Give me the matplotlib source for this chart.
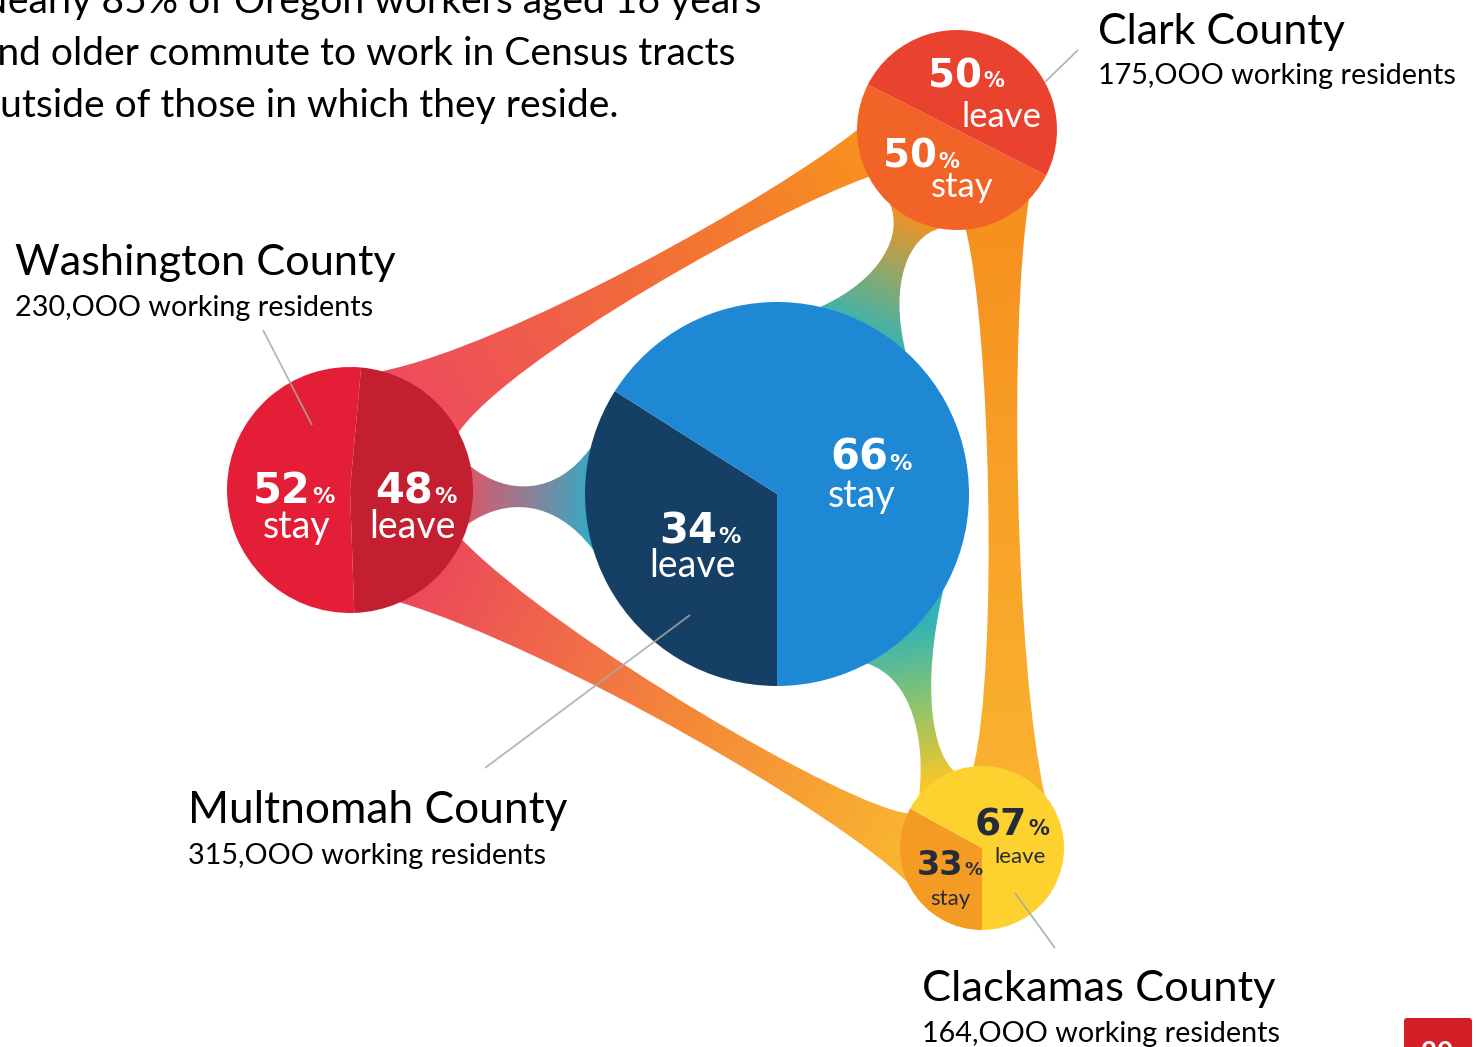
#!/usr/bin/env python3
"""Re-draw the commuting-flow infographic for the four Portland metro counties."""
import matplotlib

matplotlib.use("Agg")
import matplotlib.pyplot as plt
import numpy as np
from matplotlib.colors import LinearSegmentedColormap
from matplotlib.patches import FancyBboxPatch, PathPatch, Wedge
from matplotlib.path import Path

W, H = 1476, 1047
TXT = "Lato"
NUM = "DejaVu Sans"

# ---- data -------------------------------------------------------------
COUNTIES = ["Washington", "Clark", "Multnomah", "Clackamas"]
RESIDENTS = ["230,OOO", "175,OOO", "315,OOO", "164,OOO"]
STAY_PCT = [52, 50, 66, 33]
LEAVE_PCT = [48, 50, 34, 67]
HEADLINE = [
    "Nearly 85% of Oregon workers aged 16 years",
    "and older commute to work in Census tracts",
    "outside of those in which they reside.",
]
FLOWS = [
    ("Washington", "Clark"),
    ("Washington", "Clackamas"),
    ("Clark", "Clackamas"),
    ("Multnomah", "Washington"),
    ("Multnomah", "Clark"),
    ("Multnomah", "Clackamas"),
]

# ---- layout (pixels, y down; angles clockwise from east) --------------
# label tuple: number x, baseline, word centre x, word baseline, number pt, % pt, word pt
NODE = {
    "Washington": dict(c=(350, 490), r=123, first="stay", start=88,
                       stay="#e31e36", leave="#c41f30", ink="white",
                       stay_lbl=(311, 503, 297, 538, 30, 16, 27),
                       leave_lbl=(433, 503, 412, 538, 30, 16, 27),
                       name=(15, 275), sub=(15, 316), lead=((263, 330), (312, 425))),
    "Clark": dict(c=(957, 130), r=100, first="stay", start=27,
                  stay="#f26328", leave="#e94330", ink="white",
                  stay_lbl=(937, 168, 962, 197, 28, 15, 25),
                  leave_lbl=(982, 87, 1001, 127, 28, 15, 25),
                  name=(1098, 44), sub=(1098, 84), lead=((1045, 82), (1078, 50))),
    "Multnomah": dict(c=(777, 494), r=192, first="leave", start=90,
                      stay="#1e88d4", leave="#163f66", ink="white",
                      stay_lbl=(888, 470, 862, 507, 30, 16, 27),
                      leave_lbl=(717, 543, 692, 577, 30, 16, 27),
                      name=(188, 823), sub=(188, 864), lead=((690, 615), (485, 768))),
    "Clackamas": dict(c=(982, 848), r=82, first="stay", start=90,
                      stay="#f39b22", leave="#fdd22f", ink="#262b3a",
                      stay_lbl=(963, 875, 950, 905, 24, 13, 16),
                      leave_lbl=(1027, 835, 1020, 863, 27, 15, 16),
                      name=(922, 1001), sub=(922, 1042), lead=((1015, 893), (1055, 948))),
}

RIBBON = {
    ("Washington", "Clark"): dict(a=(-75, -28), b=(180, 152), waist=26, pos=0.5, k=0.3,
                                  colors=["#ee4d5c", "#f26c3a", "#f7911f"]),
    ("Washington", "Clackamas"): dict(a=(24, 66), b=(205, 155), waist=26, pos=0.55, k=0.3,
                                      colors=["#ec4a5a", "#f4853a", "#f9b530"]),
    ("Clark", "Clackamas"): dict(a=(85, 44), b=(-96, -40), waist=30, pos=0.5, k=0.3,
                                 colors=["#f6901f", "#fab22f"]),
    ("Multnomah", "Washington"): dict(a=(194, 163), b=(-11, 16), waist=22, pos=0.5, k=0.2,
                                      colors=["#36a9c4", "#8a8298", "#d65a6c"]),
    ("Multnomah", "Clark"): dict(a=(-77, -48), b=(132, 100), waist=24, pos=0.6, k=0.2,
                                 colors=["#3db3ae", "#93a868", "#f39224"]),
    ("Multnomah", "Clackamas"): dict(a=(62, 30), b=(220, 250), waist=20, pos=0.55, k=0.2,
                                     colors=["#33b3b8", "#8cc56c", "#f8c52c"]),
}

fig = plt.figure(figsize=(W / 100, H / 100), dpi=100)
ax = fig.add_axes([0, 0, 1, 1])
renderer = fig.canvas.get_renderer()


def fit_width(txt, target):
    w = txt.get_window_extent(renderer).width
    txt.set_fontsize(txt.get_fontsize() * target / w)


def rim(name, ang):
    (cx, cy), r = NODE[name]["c"], NODE[name]["r"]
    a = np.radians(ang)
    return np.array([cx + r * np.cos(a), cy + r * np.sin(a)])


def draw_ribbon(src, dst, a, b, waist, pos, k, colors):
    a1, a2 = rim(src, a[0]), rim(src, a[1])
    b1, b2 = rim(dst, b[0]), rim(dst, b[1])
    ma, mb = (a1 + a2) / 2, (b1 + b2) / 2
    d = mb - ma
    L = np.hypot(*d)
    u = d / L
    n = np.array([-u[1], u[0]])
    m = ma + pos * d
    s = np.sign(np.dot(a1 - a2, n))
    w1 = m + s * n * waist / 2
    w2 = m - s * n * waist / 2
    # shift the control points so the curve really passes through the waist
    c1 = (w1 - 0.125 * (a1 + b1)) / 0.75
    c2 = (w2 - 0.125 * (a2 + b2)) / 0.75
    verts = [a1, c1 - u * L * k, c1 + u * L * k, b1, b2,
             c2 + u * L * k, c2 - u * L * k, a2, a1]
    codes = [Path.MOVETO, Path.CURVE4, Path.CURVE4, Path.CURVE4, Path.LINETO,
             Path.CURVE4, Path.CURVE4, Path.CURVE4, Path.CLOSEPOLY]
    patch = PathPatch(Path(verts, codes), facecolor="none", edgecolor="none")
    ax.add_patch(patch)

    x0, y0 = np.min(verts, axis=0) - 5
    x1, y1 = np.max(verts, axis=0) + 5
    X, Y = np.meshgrid(np.linspace(x0, x1, int(x1 - x0) + 2),
                       np.linspace(y0, y1, int(y1 - y0) + 2))
    t = np.clip(((X - ma[0]) * u[0] + (Y - ma[1]) * u[1]) / L, 0, 1)
    cmap = LinearSegmentedColormap.from_list("flow", colors)
    im = ax.imshow(cmap(t), extent=(x0, x1, y0, y1), origin="lower",
                   interpolation="bilinear", zorder=1)
    im.set_clip_path(patch)


for src, dst in FLOWS:
    draw_ribbon(src, dst, **RIBBON[(src, dst)])

for i, name in enumerate(COUNTIES):
    nd = NODE[name]
    pct = {"stay": STAY_PCT[i], "leave": LEAVE_PCT[i]}
    second = "leave" if nd["first"] == "stay" else "stay"
    t0 = nd["start"]
    t1 = t0 + pct[nd["first"]] * 3.6
    ax.add_patch(Wedge(nd["c"], nd["r"], t0, t1, facecolor=nd[nd["first"]],
                       edgecolor="none", zorder=3))
    ax.add_patch(Wedge(nd["c"], nd["r"], t1, t0 + 360, facecolor=nd[second],
                       edgecolor="none", zorder=3))

    for kind in ("stay", "leave"):
        nx, ny, wx, wy, nsz, psz, wsz = nd[kind + "_lbl"]
        ax.text(nx, ny, f"{pct[kind]}", ha="right", va="baseline", color=nd["ink"],
                fontsize=nsz, fontweight="bold", family=NUM, zorder=6)
        ax.text(nx + 1, ny, "%", ha="left", va="baseline", color=nd["ink"],
                fontsize=psz, fontweight="bold", family=NUM, zorder=6)
        ax.text(wx, wy, kind, ha="center", va="baseline", color=nd["ink"],
                fontsize=wsz, fontweight="normal", family=TXT, zorder=6)

    (lx0, ly0), (lx1, ly1) = nd["lead"]
    ax.plot([lx0, lx1], [ly0, ly1], color="#a8a8a8", lw=1.3, alpha=0.85,
            solid_capstyle="butt", zorder=4)

    t = ax.text(*nd["name"], f"{name} County", ha="left", va="baseline",
                fontsize=30, family=TXT, color="black", zorder=6)
    fit_width(t, {"Washington": 381, "Clark": 247, "Multnomah": 379,
                  "Clackamas": 353}[name])
    t = ax.text(*nd["sub"], f"{RESIDENTS[i]} working residents", ha="left",
                va="baseline", fontsize=20, family=TXT, color="black", zorder=6)
    fit_width(t, 358)

# headline, cut by the left edge as in the slide
head = [ax.text(-22, 13 + 52 * j, line, ha="left", va="baseline", fontsize=28,
                family=TXT, color="black", zorder=6) for j, line in enumerate(HEADLINE)]
fit_width(head[1], 757)
for h in head:
    h.set_fontsize(head[1].get_fontsize())

# page badge
ax.add_patch(FancyBboxPatch((1404, 1018), 68, 40, boxstyle="round,pad=0,rounding_size=3",
                            facecolor="#d41f27", edgecolor="none", zorder=6))
ax.text(1437, 1041, "20", ha="center", va="top", color="white", fontsize=20,
        fontweight="bold", family=TXT, zorder=7)

ax.set_xlim(0, W)
ax.set_ylim(H, 0)
ax.set_aspect("auto")
ax.axis("off")
fig.savefig("out.png", dpi=100, facecolor="white")
